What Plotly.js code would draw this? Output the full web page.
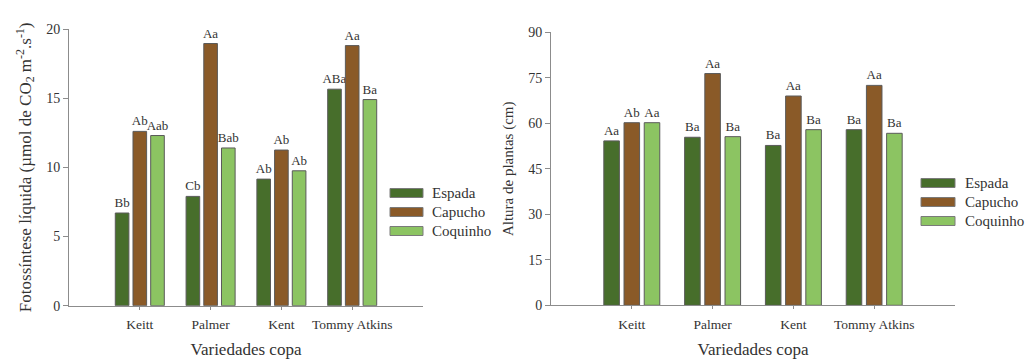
<!DOCTYPE html>
<html>
<head>
<meta charset="utf-8">
<script src="https://cdn.plot.ly/plotly-3.0.1.min.js"></script>
<style>html,body{margin:0;padding:0;background:#fff}#chart{width:1028px;height:359px}</style>
</head>
<body>
<div id="chart"></div>
<script>
// ---- data ----
const categories = ["Keitt", "Palmer", "Kent", "Tommy Atkins"];
const seriesNames = ["Espada", "Capucho", "Coquinho"];
const seriesColors = ["#476e2b", "#8a5a28", "#8cc462"];

// Fotossíntese líquida
const photoEspada   = [6.7, 7.9, 9.15, 15.65];
const photoCapucho  = [12.6, 18.95, 11.25, 18.8];
const photoCoquinho = [12.3, 11.4, 9.75, 14.9];
const photoLabelsEspada   = ["Bb", "Cb", "Ab", "ABa"];
const photoLabelsCapucho  = ["Ab", "Aa", "Ab", "Aa"];
const photoLabelsCoquinho = ["Aab", "Bab", "Ab", "Ba"];

// Altura de plantas
const heightEspada   = [54.2, 55.4, 52.7, 57.9];
const heightCapucho  = [60.2, 76.4, 69.0, 72.5];
const heightCoquinho = [60.2, 55.6, 57.9, 56.7];
const heightLabelsEspada   = ["Aa", "Ba", "Ba", "Ba"];
const heightLabelsCapucho  = ["Ab", "Aa", "Aa", "Aa"];
const heightLabelsCoquinho = ["Aa", "Ba", "Ba", "Ba"];

const photoTicks = [0, 5, 10, 15, 20];
const heightTicks = [0, 15, 30, 45, 60, 75, 90];

// ---- build ----
const FONT = "Liberation Serif";
const xIdx = categories.map((c, i) => i);
const photoVals = [photoEspada, photoCapucho, photoCoquinho];
const photoLbls = [photoLabelsEspada, photoLabelsCapucho, photoLabelsCoquinho];
const heightVals = [heightEspada, heightCapucho, heightCoquinho];
const heightLbls = [heightLabelsEspada, heightLabelsCapucho, heightLabelsCoquinho];

const traces = [];
seriesNames.forEach((name, s) => {
  traces.push({
    type: "bar", name: name, x: xIdx, y: photoVals[s], text: photoLbls[s],
    textposition: "outside", cliponaxis: false, constraintext: "none",
    textfont: {family: FONT, size: 13, color: "#333"},
    marker: {color: seriesColors[s], line: {color: "#5a5a5a", width: 1}},
    xaxis: "x", yaxis: "y", showlegend: false, hoverinfo: "x+y"
  });
});
seriesNames.forEach((name, s) => {
  traces.push({
    type: "bar", name: name, x: xIdx, y: heightVals[s], text: heightLbls[s],
    textposition: "outside", cliponaxis: false, constraintext: "none",
    textfont: {family: FONT, size: 13, color: "#333"},
    marker: {color: seriesColors[s], line: {color: "#5a5a5a", width: 1}},
    xaxis: "x2", yaxis: "y2", showlegend: false, hoverinfo: "x+y"
  });
});

const axisCommon = {
  showgrid: false, zeroline: false, showline: true, linecolor: "#8c8c8c", linewidth: 1,
  ticks: "outside", tickcolor: "#8c8c8c", ticklen: 5, tickwidth: 1,
  tickfont: {family: FONT, size: 14, color: "#333"}
};
const xTickFont = {family: FONT, size: 13.5, color: "#333"};

const W = 1028, H = 359;
const shapes = [], annotations = [];
// custom legends (swatches sized like the reference)
const legends = [
  {x0: 390, x1: 423, ys: [193, 212, 231], tx: 430},
  {x0: 921, x1: 955, ys: [183, 202, 221], tx: 963}
];
legends.forEach(L => {
  seriesNames.forEach((name, s) => {
    shapes.push({type: "rect", xref: "paper", yref: "paper",
      x0: L.x0 / W, x1: L.x1 / W, y0: 1 - (L.ys[s] + 4.5) / H, y1: 1 - (L.ys[s] - 4.5) / H,
      fillcolor: seriesColors[s], line: {color: "#7a7a7a", width: 1}});
    annotations.push({xref: "paper", yref: "paper", x: L.tx / W, y: 1 - L.ys[s] / H,
      xanchor: "left", yanchor: "middle", showarrow: false, text: name,
      font: {family: FONT, size: 15, color: "#333"}});
  });
});

const layout = {
  width: W, height: H,
  margin: {l: 0, r: 0, t: 0, b: 0},
  paper_bgcolor: "#fff", plot_bgcolor: "#fff",
  barmode: "group", bargap: 0.25, bargroupgap: 0.23,
  font: {family: FONT, color: "#333"},
  xaxis: Object.assign({}, axisCommon, {
    domain: [69 / W, 423 / W], anchor: "y", range: [-1, 4],
    tickvals: xIdx, ticktext: categories, ticklen: 3, tickfont: xTickFont, ticklabelstandoff: 3,
    title: {text: "Variedades copa", font: {family: FONT, size: 17, color: "#333"}, standoff: 17}
  }),
  yaxis: Object.assign({}, axisCommon, {
    domain: [1 - 305.7 / H, 1 - 29 / H], anchor: "x", range: [0, 20],
    tickvals: photoTicks,
    title: {text: "Fotossíntese líquida (µmol de CO<sub>2</sub> m<sup>-2</sup>.s<sup>-1</sup>)",
      font: {family: FONT, size: 17, color: "#333"}, standoff: 10}
  }),
  xaxis2: Object.assign({}, axisCommon, {
    domain: [551 / W, 955 / W], anchor: "y2", range: [-1, 4],
    tickvals: xIdx, ticktext: categories, ticklen: 3, tickfont: xTickFont, ticklabelstandoff: 3,
    title: {text: "Variedades copa", font: {family: FONT, size: 17, color: "#333"}, standoff: 17}
  }),
  yaxis2: Object.assign({}, axisCommon, {
    domain: [1 - 305.3 / H, 1 - 32.3 / H], anchor: "x2", range: [0, 90],
    tickvals: heightTicks,
    title: {text: "Altura de plantas (cm)", font: {family: FONT, size: 15, color: "#333"}, standoff: 10}
  }),
  shapes: shapes,
  annotations: annotations,
  showlegend: false
};

Plotly.newPlot("chart", traces, layout, {displayModeBar: false, staticPlot: true});
</script>
</body>
</html>
